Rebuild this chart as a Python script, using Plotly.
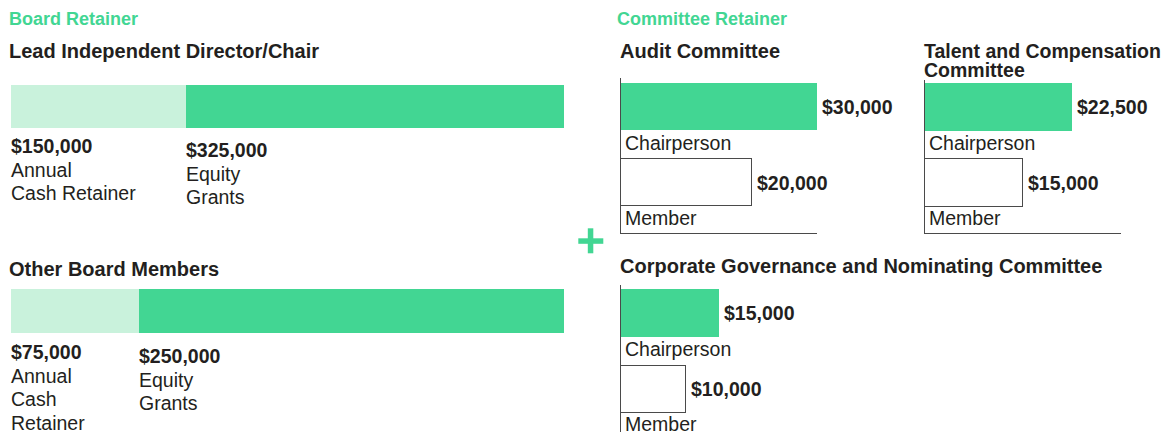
import plotly.graph_objects as go

# ---------------- data ----------------
section_titles = ["Board Retainer", "Committee Retainer"]

board_roles = ["Lead Independent Director/Chair", "Other Board Members"]
cash_retainer = [150000, 75000]
equity_grants = [325000, 250000]
cash_label_lines = [["Annual", "Cash Retainer"], ["Annual", "Cash", "Retainer"]]
equity_label_lines = [["Equity", "Grants"], ["Equity", "Grants"]]

committees = ["Audit Committee", "Talent and Compensation<br>Committee",
              "Corporate Governance and Nominating Committee"]
committee_roles = ["Member", "Chairperson"]
chair_fee = [30000, 22500, 15000]
member_fee = [20000, 15000, 10000]
committee_axis_max = 30000

# ---------------- style / layout ----------------
W, H = 1166, 432
GREEN = "#42D693"
LIGHT = "#C9F2DC"
TEXT = "#231F20"
LINE = "#4a4a4a"
FONT = "Liberation Sans"


def xd(a, b):
    return [a / W, b / W]


def yd(top, bottom):
    return [max(0, 1 - bottom / H), min(1, 1 - top / H)]


def px(x):
    return x / W


def py(y):
    return 1 - y / H


def money(v):
    return f"${v:,}"


def ann(text, x, y, size, bold=False, color=TEXT, xref="paper", yref="paper", xshift=0, yshift=0):
    return dict(text=f"<b>{text}</b>" if bold else text, x=x, y=y, xref=xref, yref=yref,
                xanchor="left", yanchor="middle", showarrow=False, align="left",
                font=dict(family=FONT, size=size, color=color),
                xshift=xshift, yshift=yshift, borderpad=0, borderwidth=0)


fig = go.Figure()
annotations = []
layout_axes = {}

# Board bars (each normalised to full width)
board_geom = [
    dict(top=85, bot=128, title_y=51, cash_y=145.5, eq_y=150),
    dict(top=289, bot=333, title_y=268.5, cash_y=352, eq_y=355.5),
]
LS = 23.4
for i, g in enumerate(board_geom):
    ax = i + 1
    xa = "x" if ax == 1 else f"x{ax}"
    ya = "y" if ax == 1 else f"y{ax}"
    total = cash_retainer[i] + equity_grants[i]
    fig.add_trace(go.Bar(x=[cash_retainer[i]], y=[0], orientation="h", width=1,
                         marker=dict(color=LIGHT, line=dict(width=0)),
                         xaxis=xa, yaxis=ya, showlegend=False, hoverinfo="skip"))
    fig.add_trace(go.Bar(x=[equity_grants[i]], y=[0], orientation="h", width=1,
                         marker=dict(color=GREEN, line=dict(width=0)),
                         xaxis=xa, yaxis=ya, showlegend=False, hoverinfo="skip"))
    layout_axes[f"xaxis{ax if ax > 1 else ''}"] = dict(
        domain=xd(11, 564), range=[0, total], visible=False, fixedrange=True, anchor=ya)
    layout_axes[f"yaxis{ax if ax > 1 else ''}"] = dict(
        domain=yd(g["top"], g["bot"]), range=[-0.5, 0.5], visible=False, fixedrange=True, anchor=xa)
    annotations.append(ann(board_roles[i], px(9), py(g["title_y"]), 20, bold=True))
    annotations.append(ann(money(cash_retainer[i]), 0, py(g["cash_y"]), 19.5, bold=True, xref=xa))
    for k, t in enumerate(cash_label_lines[i]):
        annotations.append(ann(t, 0, py(g["cash_y"] + 24 + LS * k), 19.5, xref=xa))
    annotations.append(ann(money(equity_grants[i]), cash_retainer[i], py(g["eq_y"]), 19.5, bold=True, xref=xa))
    for k, t in enumerate(equity_label_lines[i]):
        annotations.append(ann(t, cash_retainer[i], py(g["eq_y"] + 24 + LS * k), 19.5, xref=xa))

# Committee panels
comm_geom = [
    dict(x0=621, top=78.3, bot=232.7, chair_c=107, mem_c=183, title_x=620, title_y=51, base=True, tsize=20),
    dict(x0=925, top=80, bot=232.7, chair_c=107, mem_c=183, title_x=924, title_y=51, base=True, tsize=19.5),
    dict(x0=621, top=285, bot=432, chair_c=313, mem_c=389.3, title_x=620, title_y=266, base=False, tsize=20),
]
for j, g in enumerate(comm_geom):
    ax = j + 3
    xa, ya = f"x{ax}", f"y{ax}"
    sp = g["mem_c"] - g["chair_c"]
    fig.add_trace(go.Bar(
        x=[member_fee[j], chair_fee[j]], y=[0, 1], orientation="h", width=47.4 / sp,
        marker=dict(color=["white", GREEN], line=dict(color=[LINE, GREEN], width=[1, 0])),
        xaxis=xa, yaxis=ya, showlegend=False, hoverinfo="skip", cliponaxis=False))
    layout_axes[f"xaxis{ax}"] = dict(
        domain=xd(g["x0"], g["x0"] + 196), range=[0, committee_axis_max], anchor=ya,
        showline=g["base"], linecolor=LINE, linewidth=1, showgrid=False, zeroline=False,
        showticklabels=False, ticks="", fixedrange=True)
    layout_axes[f"yaxis{ax}"] = dict(
        domain=yd(g["top"], g["bot"]),
        range=[-(g["bot"] - g["mem_c"]) / sp, 1 + (g["chair_c"] - g["top"]) / sp], anchor=xa,
        showline=True, linecolor=LINE, linewidth=1, showgrid=False, zeroline=False,
        showticklabels=False, ticks="", fixedrange=True)
    # titles
    lines = committees[j].split("<br>")
    for k, t in enumerate(lines):
        annotations.append(ann(t, px(g["title_x"]), py(g["title_y"] + 19 * k), g["tsize"], bold=True))
    # value labels
    annotations.append(ann(money(chair_fee[j]), chair_fee[j], 1, 19.5, bold=True, xref=xa, yref=ya, xshift=5))
    annotations.append(ann(money(member_fee[j]), member_fee[j], 0, 19.5, bold=True, xref=xa, yref=ya, xshift=5))
    # role labels
    annotations.append(ann(committee_roles[1], 0, 0.526, 19.5, xref=xa, yref=ya, xshift=4))
    annotations.append(ann(committee_roles[0], 0, -0.46, 19.5, xref=xa, yref=ya, xshift=4))

# Section headers
annotations.append(ann(section_titles[0], px(9), py(18.7), 18, bold=True, color=GREEN))
annotations.append(ann(section_titles[1], px(617), py(18.7), 18, bold=True, color=GREEN))

# plus sign
shapes = [
    dict(type="rect", xref="paper", yref="paper", x0=px(578.3), x1=px(603.3), y0=py(243.8), y1=py(238.3),
         fillcolor=GREEN, line=dict(width=0)),
    dict(type="rect", xref="paper", yref="paper", x0=px(587.8), x1=px(593.3), y0=py(253.3), y1=py(228.3),
         fillcolor=GREEN, line=dict(width=0)),
]

fig.update_layout(
    width=W, height=H, margin=dict(l=0, r=0, t=0, b=0),
    paper_bgcolor="white", plot_bgcolor="rgba(0,0,0,0)",
    barmode="stack", bargap=0, showlegend=False,
    annotations=annotations, shapes=shapes,
    font=dict(family=FONT, color=TEXT),
    **layout_axes,
)

fig.write_html("out.html", config={"displayModeBar": False},
               post_script="document.body.style.margin='0';document.body.style.overflow='hidden';")
